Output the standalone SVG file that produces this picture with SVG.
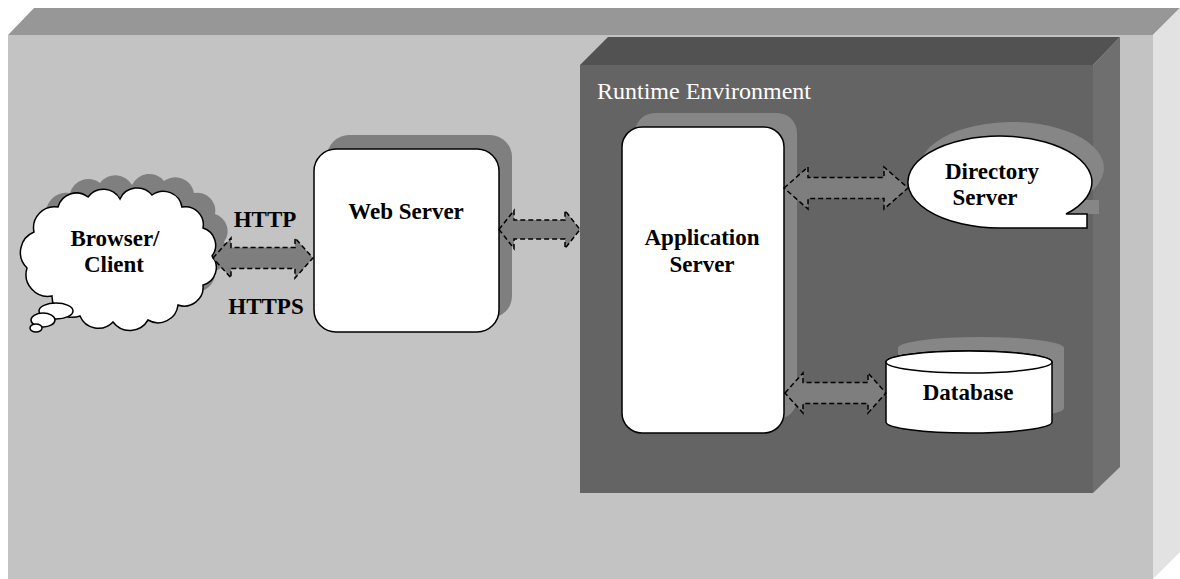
<svg xmlns="http://www.w3.org/2000/svg" width="1180" height="579" viewBox="0 0 1180 579">
<style>
.lbl{font-family:"Liberation Serif","Times New Roman",serif;font-weight:bold;font-size:23px;fill:#000;text-anchor:middle}
.env{font-family:"Liberation Serif","Times New Roman",serif;font-size:24px;fill:#fff}
.node{fill:#fff;stroke:#000;stroke-width:1.5}
.shadowL{fill:#7f7f7f}
.shadowD{fill:#868686}
.arrow{fill:#7e7e7e;stroke:#000;stroke-width:1.5;stroke-dasharray:5 3}
</style>
<defs>
<path id="cloud" d="M27,268 A22,22 0 0,1 34,232 A21,21 0 0,1 58,207 A19,19 0 0,1 88,197 A19,19 0 0,1 120,199 A19,19 0 0,1 152,195 A19,19 0 0,1 182,207 A18,18 0 0,1 203,228 A18,18 0 0,1 212,256 A18,18 0 0,1 203,285 A19,19 0 0,1 178,305 A20,20 0 0,1 148,320 A21,21 0 0,1 113,322 A20,20 0 0,1 80,316 A21,21 0 0,1 52,296 A22,22 0 0,1 27,268 Z"/>
<path id="dir" d="M1000,228 A92,46 0 1,1 1066,214 L1087,214 L1087,228 Z"/>
<path id="cyl" d="M886,362 L886,422 A83,11 0 0,0 1052,422 L1052,362 A83,11 0 0,0 886,362 Z"/>
</defs>
<rect x="0" y="0" width="1180" height="579" fill="#fff"/>
<g id="outer-box">
<polygon points="8,35 34,8 1180,8 1153,35" fill="#979797"/>
<polygon points="1153,35 1180,8 1180,552 1153,579" fill="#e2e2e2"/>
<rect x="8" y="35" width="1145" height="544" fill="#c3c3c3"/>
</g>
<g id="runtime-environment">
<polygon points="580,65 608,37 1120,37 1093,65" fill="#525252"/>
<polygon points="1093,65 1120,37 1120,467 1093,493" fill="#6f6f6f"/>
<rect x="580" y="65" width="513" height="428" fill="#646464"/>
<text class="env" x="597" y="99">Runtime Environment</text>
</g>
<g id="browser-client">
<use href="#cloud" transform="translate(12,-14)" class="shadowL"/>
<use href="#cloud" class="node"/>
<ellipse cx="56" cy="311" rx="17" ry="8" class="node"/>
<ellipse cx="43" cy="320" rx="12" ry="7" class="node"/>
<ellipse cx="36" cy="328" rx="6" ry="4" class="node"/>
<text class="lbl" x="115" y="246">Browser/</text>
<text class="lbl" x="114" y="272">Client</text>
</g>
<g id="web-server">
<rect x="327" y="135" width="185" height="183" rx="22" class="shadowL"/>
<rect x="314" y="149" width="185" height="183" rx="22" class="node"/>
<text class="lbl" x="406" y="219">Web Server</text>
</g>
<g id="application-server">
<rect x="635" y="113" width="162" height="306" rx="20" class="shadowD"/>
<rect x="622" y="127" width="162" height="306" rx="20" class="node"/>
<text class="lbl" x="702" y="245">Application</text>
<text class="lbl" x="702" y="272">Server</text>
</g>
<g id="directory-server">
<use href="#dir" transform="translate(12,-14)" class="shadowD"/>
<use href="#dir" class="node"/>
<text class="lbl" x="992" y="179">Directory</text>
<text class="lbl" x="985" y="205">Server</text>
</g>
<g id="database">
<use href="#cyl" transform="translate(12,-14)" class="shadowD"/>
<use href="#cyl" class="node"/>
<ellipse cx="969" cy="362" rx="83" ry="11" class="node"/>
<text class="lbl" x="968" y="400">Database</text>
</g>
<g id="connectors">
<path class="arrow" d="M213,258 L231,238 L231,247.5 L295,247.5 L295,238 L313,258 L295,278 L295,268.5 L231,268.5 L231,278 Z"/>
<path class="arrow" d="M499,229.5 L514,210.5 L514,220 L565,220 L565,210.5 L580,229.5 L565,248.5 L565,239 L514,239 L514,248.5 Z"/>
<path class="arrow" d="M784,188 L808,167 L808,177.5 L884,177.5 L884,167 L908,188 L884,209 L884,198.5 L808,198.5 L808,209 Z"/>
<path class="arrow" d="M785,393 L803,373 L803,382.5 L868,382.5 L868,373 L886,393 L868,413 L868,403.5 L803,403.5 L803,413 Z"/>
<text class="lbl" x="265" y="227">HTTP</text>
<text class="lbl" x="266" y="314">HTTPS</text>
</g>
</svg>
